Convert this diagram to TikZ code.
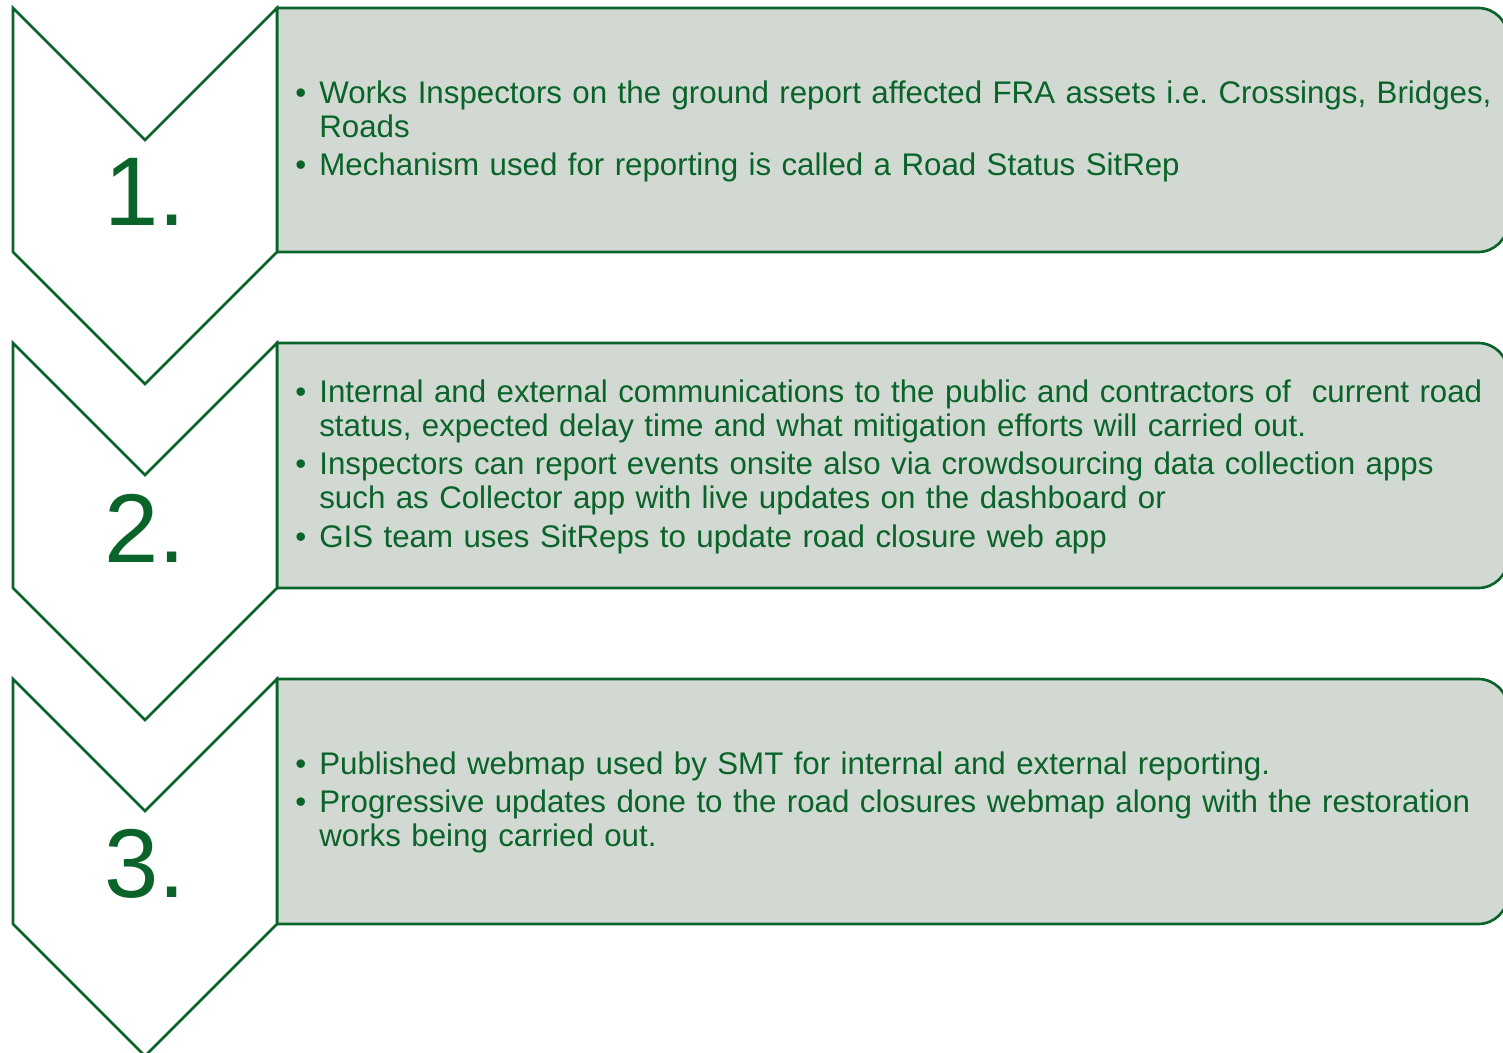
\documentclass[tikz,border=0pt]{standalone}
\usepackage{fontspec}
\setmainfont{Liberation Sans}
\usepackage{enumitem}
\usepackage{tikz}
\definecolor[named]{myColorGreen}{RGB}{10,99,40}
\definecolor[named]{myColorGray}{RGB}{209,217,210}
\setlist[itemize]{label=\textbullet, leftmargin=0.84cm, labelsep=0.26cm,
  itemsep=2.3pt, topsep=0pt, partopsep=0pt, parsep=0pt}
\frenchspacing

\begin{document}
\begin{tikzpicture}
[%
    x=0.02cm, y=-0.02cm,
    chevron/.style={
      draw=myColorGreen,
      line width=1.5pt,
      fill=white
    },
    panel/.style={
      draw=myColorGreen,
      line width=1.5pt,
      fill=myColorGray
    },
    number/.style={
      text=myColorGreen,
      inner sep=0pt,
      font=\fontsize{55.6pt}{60pt}\selectfont
    },
    items/.style={
      anchor=west,
      text=myColorGreen,
      inner sep=0pt,
      text width=24.8cm,
      align=left,
      font=\fontsize{17.8pt}{19.4pt}\selectfont
    }
  ]
  \useasboundingbox (0,0) rectangle (1503,1053);

  %Step 1
    \draw[panel] (277,8) [rounded corners=17pt] -- (1508,8) -- (1508,252) [sharp corners] -- (277,252) -- cycle;
    \draw[chevron] (13,8) -- (145,140) -- (277,8) -- (277,252) -- (145,384) -- (13,252) -- cycle;
    \node[number] (N1) at (145,192) {1.};
    \node[items] (T1) at (277,126) {%
      \begin{itemize}
        \item Works Inspectors on the ground report affected FRA assets i.e. Crossings, Bridges,\newline Roads
        \item Mechanism used for reporting is called a Road Status SitRep
      \end{itemize}};

  %Step 2
    \draw[panel] (277,343) [rounded corners=17pt] -- (1508,343) -- (1508,588) [sharp corners] -- (277,588) -- cycle;
    \draw[chevron] (13,343) -- (145,475) -- (277,343) -- (277,588) -- (145,720) -- (13,588) -- cycle;
    \node[number] (N2) at (145,528) {2.};
    \node[items] (T2) at (277,461) {%
      \begin{itemize}
        \item Internal and external communications to the public and contractors of~ current road\newline status, expected delay time and what mitigation efforts will carried out.
        \item Inspectors can report events onsite also via crowdsourcing data collection apps\newline such as Collector app with live updates on the dashboard or
        \item GIS team uses SitReps to update road closure web app
      \end{itemize}};

  %Step 3
    \draw[panel] (277,679) [rounded corners=17pt] -- (1508,679) -- (1508,924) [sharp corners] -- (277,924) -- cycle;
    \draw[chevron] (13,679) -- (145,811) -- (277,679) -- (277,924) -- (145,1056) -- (13,924) -- cycle;
    \node[number] (N3) at (145,864) {3.};
    \node[items] (T3) at (277,797) {%
      \begin{itemize}
        \item Published webmap used by SMT for internal and external reporting.
        \item Progressive updates done to the road closures webmap along with the restoration\newline works being carried out.
      \end{itemize}};

\end{tikzpicture}
\end{document}
